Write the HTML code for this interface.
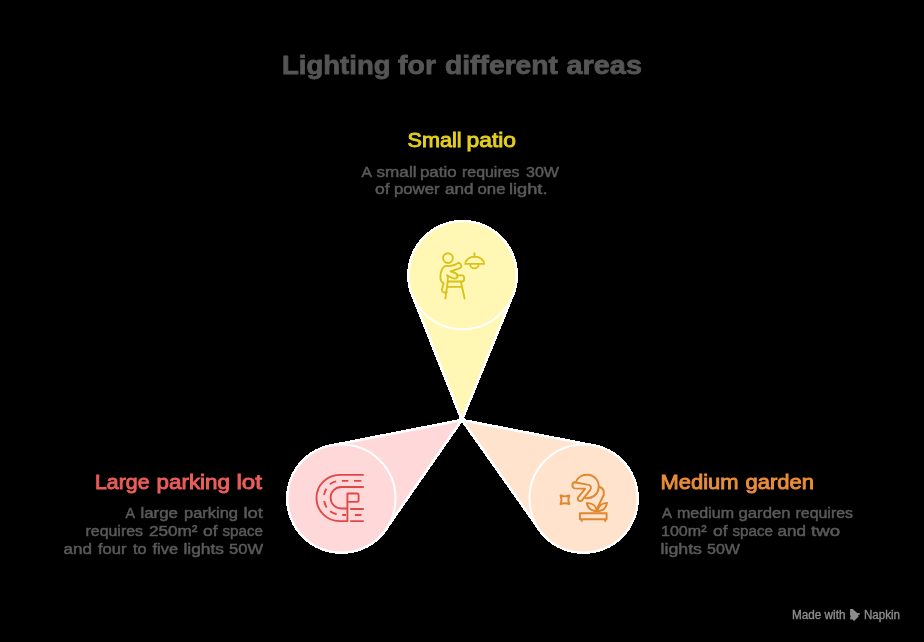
<!DOCTYPE html>
<html><head><meta charset="utf-8"><style>
html,body{margin:0;padding:0;background:#000;width:924px;height:642px;overflow:hidden}
svg{position:absolute;left:0;top:0;font-family:"Liberation Sans",sans-serif;will-change:transform}
</style></head><body>
<svg width="924" height="642" viewBox="0 0 924 642">
<g shape-rendering="crispEdges"><circle cx="462.6" cy="275.3" r="55.5" fill="#fff"/>
<path d="M461.9,420.0 L412.40,295.21 L512.60,295.69 Z" fill="#fff" stroke="#fff" stroke-width="2.7" stroke-linejoin="miter" stroke-miterlimit="10"/><circle cx="341.5" cy="498.5" r="55.5" fill="#fff"/>
<path d="M461.9,420.0 L385.83,529.34 L331.16,445.50 Z" fill="#fff" stroke="#fff" stroke-width="2.7" stroke-linejoin="miter" stroke-miterlimit="10"/><circle cx="583.5" cy="498.5" r="55.5" fill="#fff"/>
<path d="M461.9,420.0 L593.75,445.48 L539.40,529.67 Z" fill="#fff" stroke="#fff" stroke-width="2.7" stroke-linejoin="miter" stroke-miterlimit="10"/></g>
<path d="M461.92,416.38 L413.66,294.71 L462.6,275.3 L511.35,295.18 Z" fill="#FFF7B3"/><path d="M458.89,421.96 L384.72,528.57 L341.5,498.5 L331.42,446.82 Z" fill="#FFD9D9"/><path d="M464.94,421.96 L593.49,446.81 L583.5,498.5 L540.50,528.89 Z" fill="#FFE3CC"/>
<circle cx="462.6" cy="275.3" r="54" fill="#FFF7B3" stroke="#fff" stroke-width="2"/><circle cx="341.5" cy="498.5" r="54" fill="#FFD9D9" stroke="#fff" stroke-width="2"/><circle cx="583.5" cy="498.5" r="54" fill="#FFE3CC" stroke="#fff" stroke-width="2"/>
<g transform="translate(430,245) scale(0.0935)" fill="none" stroke="#D8C21C" stroke-width="20" stroke-linecap="round" stroke-linejoin="round">
<circle cx="192" cy="140" r="52"/>
<path d="M475 88 V128 M378 202 H578 A100 78 0 0 0 378 202 Z M430 205 A45 45 0 0 0 520 205"/>
<path d="M180 323 C215 340 240 360 262 360 C290 360 300 338 294 320 C286 300 262 295 221 283 C255 272 292 258 326 245 C345 225 330 195 306 190 C285 205 262 220 225 222 L162 226 C125 240 112 300 111 350 C112 385 130 400 146 410 C138 440 125 470 128 488 C132 508 160 512 178 505"/>
<path d="M285 325 H345 C372 325 372 390 345 390 H190 V342 M190 390 L165 572 M330 390 L370 572 M195 448 H340"/>
</g>
<g transform="translate(310,465) scale(0.0935)" fill="none" stroke="#E24747" stroke-width="20" stroke-linecap="butt" stroke-linejoin="round">
<path d="M575 105 H317 A247.5 247.5 0 0 0 317 600 H400 V305 H505 Q520 305 520 320 V380 Q520 395 505 395 H400"/>
<path d="M575 235 H335 A115 115 0 0 0 335 465 H400"/>
<path d="M340 170 H410 M470 170 H550 M345 535 H385 M430 470 H575 M480 535 H550 M430 600 H575"/>
<path d="M212 205 Q245 180 280 175 M150 320 Q160 280 175 255 M152 385 Q160 425 178 455 M215 495 Q250 520 285 527"/>
</g>
<g transform="translate(550,465) scale(0.0935)" fill="none" stroke="#E0882F" stroke-width="21" stroke-linecap="round" stroke-linejoin="round">
<path d="M113 326 Q159 345 206 326 Q187 372 206 419 Q159 400 113 419 Q132 372 113 326 Z"/>
<path d="M275 185 C300 120 360 100 410 105 C490 115 530 180 520 250 C510 320 450 360 380 355"/>
<path d="M260 185 C235 190 230 245 265 250 L375 255 L305 340 C285 365 310 395 340 380 L430 265 C450 235 430 210 400 210 Z"/>
<path d="M530 235 C580 250 590 300 560 350 L505 465"/>
<path d="M395 405 C400 470 450 490 500 495 C495 440 470 410 395 405 Z M610 405 C600 470 560 490 510 495 C515 440 540 410 610 405 Z"/>
<path d="M320 515 H605 V580 H320 Z M340 585 V600 M590 585 V600"/>
</g>
<polygon points="850.07,608.94 852.73,608.94 857.21,613.01 859.88,613.29 859.88,614.69 858.05,615.25 858.62,616.51 854.41,620.86 853.01,620.58 852.73,619.18 850.49,619.74 850.07,617.21 850.91,616.37 850.07,615.53" fill="#8c8c8c"/>
<text id="title_0" x="282.00" y="74.4" textLength="108.50" lengthAdjust="spacingAndGlyphs" font-size="26" font-weight="bold" fill="#555555" stroke="#555555" stroke-width="0.8">Lighting</text>
<text id="title_1" x="398.00" y="74.4" textLength="38.00" lengthAdjust="spacingAndGlyphs" font-size="26" font-weight="bold" fill="#555555" stroke="#555555" stroke-width="0.8">for</text>
<text id="title_2" x="445.00" y="74.4" textLength="113.00" lengthAdjust="spacingAndGlyphs" font-size="26" font-weight="bold" fill="#555555" stroke="#555555" stroke-width="0.8">different</text>
<text id="title_3" x="566.50" y="74.4" textLength="75.50" lengthAdjust="spacingAndGlyphs" font-size="26" font-weight="bold" fill="#555555" stroke="#555555" stroke-width="0.8">areas</text>
<text id="h1_0" x="407.50" y="147.4" textLength="54.00" lengthAdjust="spacingAndGlyphs" font-size="20" font-weight="normal" fill="#E4CF1F" stroke="#E4CF1F" stroke-width="0.9">Small</text>
<text id="h1_1" x="466.50" y="147.4" textLength="49.50" lengthAdjust="spacingAndGlyphs" font-size="20" font-weight="normal" fill="#E4CF1F" stroke="#E4CF1F" stroke-width="0.9">patio</text>
<text id="b1l1_0" x="361.50" y="176.7" textLength="10.50" lengthAdjust="spacingAndGlyphs" font-size="15.5" font-weight="normal" fill="#5a5a5a" stroke="#5a5a5a" stroke-width="0.5">A</text>
<text id="b1l1_1" x="376.50" y="176.7" textLength="40.00" lengthAdjust="spacingAndGlyphs" font-size="15.5" font-weight="normal" fill="#5a5a5a" stroke="#5a5a5a" stroke-width="0.5">small</text>
<text id="b1l1_2" x="420.00" y="176.7" textLength="36.50" lengthAdjust="spacingAndGlyphs" font-size="15.5" font-weight="normal" fill="#5a5a5a" stroke="#5a5a5a" stroke-width="0.5">patio</text>
<text id="b1l1_3" x="462.00" y="176.7" textLength="57.50" lengthAdjust="spacingAndGlyphs" font-size="15.5" font-weight="normal" fill="#5a5a5a" stroke="#5a5a5a" stroke-width="0.5">requires</text>
<text id="b1l1_4" x="526.00" y="176.7" textLength="33.00" lengthAdjust="spacingAndGlyphs" font-size="15.5" font-weight="normal" fill="#5a5a5a" stroke="#5a5a5a" stroke-width="0.5">30W</text>
<text id="b1l2_0" x="375.00" y="193.7" textLength="14.50" lengthAdjust="spacingAndGlyphs" font-size="15.5" font-weight="normal" fill="#5a5a5a" stroke="#5a5a5a" stroke-width="0.5">of</text>
<text id="b1l2_1" x="394.00" y="193.7" textLength="45.50" lengthAdjust="spacingAndGlyphs" font-size="15.5" font-weight="normal" fill="#5a5a5a" stroke="#5a5a5a" stroke-width="0.5">power</text>
<text id="b1l2_2" x="445.00" y="193.7" textLength="28.50" lengthAdjust="spacingAndGlyphs" font-size="15.5" font-weight="normal" fill="#5a5a5a" stroke="#5a5a5a" stroke-width="0.5">and</text>
<text id="b1l2_3" x="477.50" y="193.7" textLength="28.00" lengthAdjust="spacingAndGlyphs" font-size="15.5" font-weight="normal" fill="#5a5a5a" stroke="#5a5a5a" stroke-width="0.5">one</text>
<text id="b1l2_4" x="509.00" y="193.7" textLength="38.50" lengthAdjust="spacingAndGlyphs" font-size="15.5" font-weight="normal" fill="#5a5a5a" stroke="#5a5a5a" stroke-width="0.5">light.</text>
<text id="h2_0" x="95.00" y="489.4" textLength="54.50" lengthAdjust="spacingAndGlyphs" font-size="20" font-weight="normal" fill="#EA5D5B" stroke="#EA5D5B" stroke-width="0.9">Large</text>
<text id="h2_1" x="156.50" y="489.4" textLength="73.50" lengthAdjust="spacingAndGlyphs" font-size="20" font-weight="normal" fill="#EA5D5B" stroke="#EA5D5B" stroke-width="0.9">parking</text>
<text id="h2_2" x="236.50" y="489.4" textLength="25.50" lengthAdjust="spacingAndGlyphs" font-size="20" font-weight="normal" fill="#EA5D5B" stroke="#EA5D5B" stroke-width="0.9">lot</text>
<text id="b2l1_0" x="125.50" y="518.3" textLength="9.50" lengthAdjust="spacingAndGlyphs" font-size="15.5" font-weight="normal" fill="#5a5a5a" stroke="#5a5a5a" stroke-width="0.5">A</text>
<text id="b2l1_1" x="140.50" y="518.3" textLength="37.50" lengthAdjust="spacingAndGlyphs" font-size="15.5" font-weight="normal" fill="#5a5a5a" stroke="#5a5a5a" stroke-width="0.5">large</text>
<text id="b2l1_2" x="184.00" y="518.3" textLength="54.00" lengthAdjust="spacingAndGlyphs" font-size="15.5" font-weight="normal" fill="#5a5a5a" stroke="#5a5a5a" stroke-width="0.5">parking</text>
<text id="b2l1_3" x="243.50" y="518.3" textLength="19.50" lengthAdjust="spacingAndGlyphs" font-size="15.5" font-weight="normal" fill="#5a5a5a" stroke="#5a5a5a" stroke-width="0.5">lot</text>
<text id="b2l2_0" x="85.50" y="536" textLength="57.50" lengthAdjust="spacingAndGlyphs" font-size="15.5" font-weight="normal" fill="#5a5a5a" stroke="#5a5a5a" stroke-width="0.5">requires</text>
<text id="b2l2_1" x="149.00" y="536" textLength="48.50" lengthAdjust="spacingAndGlyphs" font-size="15.5" font-weight="normal" fill="#5a5a5a" stroke="#5a5a5a" stroke-width="0.5">250m²</text>
<text id="b2l2_2" x="203.00" y="536" textLength="14.50" lengthAdjust="spacingAndGlyphs" font-size="15.5" font-weight="normal" fill="#5a5a5a" stroke="#5a5a5a" stroke-width="0.5">of</text>
<text id="b2l2_3" x="222.50" y="536" textLength="40.50" lengthAdjust="spacingAndGlyphs" font-size="15.5" font-weight="normal" fill="#5a5a5a" stroke="#5a5a5a" stroke-width="0.5">space</text>
<text id="b2l3_0" x="63.50" y="553.8" textLength="28.50" lengthAdjust="spacingAndGlyphs" font-size="15.5" font-weight="normal" fill="#5a5a5a" stroke="#5a5a5a" stroke-width="0.5">and</text>
<text id="b2l3_1" x="98.00" y="553.8" textLength="28.50" lengthAdjust="spacingAndGlyphs" font-size="15.5" font-weight="normal" fill="#5a5a5a" stroke="#5a5a5a" stroke-width="0.5">four</text>
<text id="b2l3_2" x="133.00" y="553.8" textLength="13.50" lengthAdjust="spacingAndGlyphs" font-size="15.5" font-weight="normal" fill="#5a5a5a" stroke="#5a5a5a" stroke-width="0.5">to</text>
<text id="b2l3_3" x="152.50" y="553.8" textLength="25.50" lengthAdjust="spacingAndGlyphs" font-size="15.5" font-weight="normal" fill="#5a5a5a" stroke="#5a5a5a" stroke-width="0.5">five</text>
<text id="b2l3_4" x="183.50" y="553.8" textLength="40.50" lengthAdjust="spacingAndGlyphs" font-size="15.5" font-weight="normal" fill="#5a5a5a" stroke="#5a5a5a" stroke-width="0.5">lights</text>
<text id="b2l3_5" x="229.00" y="553.8" textLength="34.00" lengthAdjust="spacingAndGlyphs" font-size="15.5" font-weight="normal" fill="#5a5a5a" stroke="#5a5a5a" stroke-width="0.5">50W</text>
<text id="h3_0" x="660.50" y="489.4" textLength="78.00" lengthAdjust="spacingAndGlyphs" font-size="20" font-weight="normal" fill="#E98D3A" stroke="#E98D3A" stroke-width="0.9">Medium</text>
<text id="h3_1" x="745.50" y="489.4" textLength="68.50" lengthAdjust="spacingAndGlyphs" font-size="20" font-weight="normal" fill="#E98D3A" stroke="#E98D3A" stroke-width="0.9">garden</text>
<text id="b3l1_0" x="662.00" y="518.3" textLength="10.00" lengthAdjust="spacingAndGlyphs" font-size="15.5" font-weight="normal" fill="#5a5a5a" stroke="#5a5a5a" stroke-width="0.5">A</text>
<text id="b3l1_1" x="677.00" y="518.3" textLength="57.00" lengthAdjust="spacingAndGlyphs" font-size="15.5" font-weight="normal" fill="#5a5a5a" stroke="#5a5a5a" stroke-width="0.5">medium</text>
<text id="b3l1_2" x="738.50" y="518.3" textLength="52.00" lengthAdjust="spacingAndGlyphs" font-size="15.5" font-weight="normal" fill="#5a5a5a" stroke="#5a5a5a" stroke-width="0.5">garden</text>
<text id="b3l1_3" x="795.50" y="518.3" textLength="57.50" lengthAdjust="spacingAndGlyphs" font-size="15.5" font-weight="normal" fill="#5a5a5a" stroke="#5a5a5a" stroke-width="0.5">requires</text>
<text id="b3l2_0" x="661.00" y="536" textLength="45.50" lengthAdjust="spacingAndGlyphs" font-size="15.5" font-weight="normal" fill="#5a5a5a" stroke="#5a5a5a" stroke-width="0.5">100m²</text>
<text id="b3l2_1" x="713.00" y="536" textLength="14.50" lengthAdjust="spacingAndGlyphs" font-size="15.5" font-weight="normal" fill="#5a5a5a" stroke="#5a5a5a" stroke-width="0.5">of</text>
<text id="b3l2_2" x="732.50" y="536" textLength="40.50" lengthAdjust="spacingAndGlyphs" font-size="15.5" font-weight="normal" fill="#5a5a5a" stroke="#5a5a5a" stroke-width="0.5">space</text>
<text id="b3l2_3" x="777.50" y="536" textLength="28.50" lengthAdjust="spacingAndGlyphs" font-size="15.5" font-weight="normal" fill="#5a5a5a" stroke="#5a5a5a" stroke-width="0.5">and</text>
<text id="b3l2_4" x="811.00" y="536" textLength="29.00" lengthAdjust="spacingAndGlyphs" font-size="15.5" font-weight="normal" fill="#5a5a5a" stroke="#5a5a5a" stroke-width="0.5">two</text>
<text id="b3l3_0" x="660.50" y="553.8" textLength="41.50" lengthAdjust="spacingAndGlyphs" font-size="15.5" font-weight="normal" fill="#5a5a5a" stroke="#5a5a5a" stroke-width="0.5">lights</text>
<text id="b3l3_1" x="707.00" y="553.8" textLength="33.00" lengthAdjust="spacingAndGlyphs" font-size="15.5" font-weight="normal" fill="#5a5a5a" stroke="#5a5a5a" stroke-width="0.5">50W</text>
<text id="ft1" x="792.00" y="618.5" textLength="53.50" lengthAdjust="spacingAndGlyphs" font-size="12" font-weight="normal" fill="#8f8f8f" stroke="#8f8f8f" stroke-width="0.35">Made with</text>
<text id="ft2" x="864.00" y="618.5" textLength="36.00" lengthAdjust="spacingAndGlyphs" font-size="12" font-weight="normal" fill="#8f8f8f" stroke="#8f8f8f" stroke-width="0.35">Napkin</text>
</svg>
</body></html>
